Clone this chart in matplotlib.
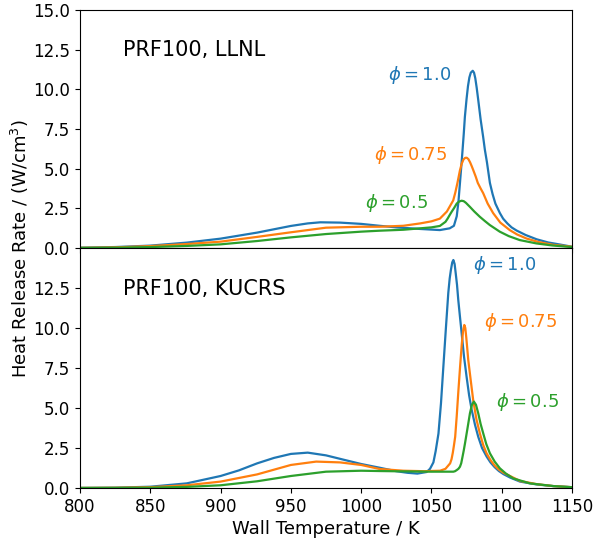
import matplotlib
matplotlib.use("Agg")
import matplotlib.pyplot as plt
import matplotlib.ticker as mticker

# ---- data ----
# Top panel (LLNL)
llnl_T_phi10 = [800, 825, 850, 876, 900, 926, 950, 962, 971, 985, 1000, 1013, 1025, 1042, 1056, 1063,
                1066, 1068, 1069.2, 1070.3, 1071.2, 1072, 1073, 1073.8, 1075, 1076, 1077, 1078, 1079.4,
                1080.3, 1081.2, 1082.2, 1083.3, 1085, 1086.8, 1088, 1089.5, 1091.6, 1093.5, 1095.5,
                1098.7, 1101, 1104, 1107, 1110.6, 1117, 1124.8, 1133, 1141.4, 1150]
llnl_q_phi10 = [0.02, 0.06, 0.15, 0.34, 0.59, 0.97, 1.39, 1.55, 1.62, 1.60, 1.52, 1.40, 1.30, 1.20, 1.13, 1.24,
                1.4, 2.0, 2.9, 4.1, 5.1, 6.0, 7.2, 8.27, 9.4, 10.2, 10.75, 11.05, 11.17,
                11.05, 10.7, 10.1, 9.33, 8.1, 7.0, 6.2, 5.4, 4.1, 3.4, 2.8,
                2.2, 1.85, 1.55, 1.3, 1.1, 0.82, 0.55, 0.35, 0.22, 0.08]

llnl_T_phi075 = [800, 825, 850, 876, 900, 926, 950, 975, 1000, 1013, 1030, 1042, 1050, 1056, 1061, 1065.5,
                 1067, 1068.5, 1070.3, 1071.5, 1072.8, 1074, 1075.1, 1076.3, 1077.5, 1078.7, 1079.8,
                 1081.5, 1083, 1085, 1086.8, 1090, 1093.9, 1099, 1105.7, 1111, 1117.6, 1126, 1136.6, 1150]
llnl_q_phi075 = [0.01, 0.04, 0.12, 0.25, 0.40, 0.70, 0.99, 1.28, 1.34, 1.34, 1.40, 1.55, 1.68, 1.85, 2.3, 3.0,
                 3.5, 4.1, 4.9, 5.3, 5.58, 5.68, 5.69, 5.6, 5.4, 5.15, 4.9,
                 4.5, 4.1, 3.75, 3.46, 2.8, 2.2, 1.6, 1.13, 0.85, 0.6, 0.38, 0.2, 0.08]

llnl_T_phi05 = [800, 825, 850, 876, 900, 926, 950, 975, 1000, 1013, 1030, 1042, 1050, 1056, 1060, 1061.5,
                1063, 1064.5, 1066, 1068, 1069.7, 1071.5, 1073, 1074.5, 1077.3, 1080.5, 1084.4, 1088,
                1091.5, 1098.6, 1105, 1112.8, 1124.6, 1136, 1150]
llnl_q_phi05 = [0.005, 0.02, 0.06, 0.13, 0.23, 0.44, 0.67, 0.88, 1.03, 1.09, 1.15, 1.24, 1.30, 1.39, 1.65, 1.85,
                2.08, 2.3, 2.5, 2.8, 2.93, 2.98, 2.95, 2.85, 2.6, 2.3, 1.97, 1.7,
                1.45, 1.03, 0.75, 0.5, 0.29, 0.16, 0.06]

# Bottom panel (KUCRS)
kucrs_T_phi10 = [800, 825, 850, 876, 900, 913, 926, 938, 950, 962, 975, 987, 1000, 1013, 1025, 1033, 1040,
                 1046.6, 1049, 1051.4, 1053, 1055, 1056.8, 1058.5, 1060.3, 1062, 1063, 1063.8, 1064.8,
                 1065.6, 1066.5, 1067.3, 1068.2, 1069.1, 1070.3, 1071.5, 1073.2, 1075, 1076.8, 1078.6,
                 1081, 1083.3, 1086, 1089.3, 1092, 1095, 1098, 1101.2, 1106, 1113, 1125, 1136.7, 1150]
kucrs_q_phi10 = [0.005, 0.02, 0.08, 0.29, 0.75, 1.1, 1.54, 1.88, 2.13, 2.21, 2.04, 1.78, 1.5, 1.27, 1.05, 0.95, 0.9,
                 1.0, 1.2, 1.6, 2.3, 3.4, 5.3, 7.6, 10.0, 12.2, 13.1, 13.6, 14.1,
                 14.25, 14.0, 13.4, 12.7, 11.75, 10.7, 9.67, 8.2, 6.96, 5.8, 4.9,
                 3.95, 3.2, 2.5, 1.96, 1.6, 1.3, 1.06, 0.87, 0.65, 0.4, 0.22, 0.12, 0.05]

kucrs_T_phi075 = [800, 825, 850, 876, 900, 926, 950, 968, 985, 1000, 1013, 1030, 1045, 1056.2, 1060, 1063.3,
                  1064.3, 1065.2, 1066, 1066.9, 1068, 1069.2, 1070.4, 1071.6, 1072.5, 1073.4, 1074.1, 1074.8,
                  1075.5, 1076.2, 1078, 1079.7, 1082, 1084.5, 1086.8, 1089.2, 1092, 1095, 1098, 1101.1,
                  1113, 1125, 1136.7, 1150]
kucrs_q_phi075 = [0.004, 0.015, 0.05, 0.17, 0.40, 0.85, 1.44, 1.65, 1.6, 1.44, 1.19, 1.08, 1.05, 1.08, 1.2, 1.54,
                  1.8, 2.2, 2.65, 3.2, 4.5, 6.1, 7.6, 9.0, 9.8, 10.19, 10.0, 9.4,
                  8.7, 8.0, 6.7, 5.5, 4.3, 3.4, 2.7, 2.17, 1.75, 1.4, 1.15, 0.96,
                  0.44, 0.24, 0.12, 0.05]

kucrs_T_phi05 = [800, 825, 850, 876, 900, 926, 950, 975, 1000, 1013, 1030, 1050, 1065.6, 1066.8, 1068, 1069.2,
                 1070.3, 1071.2, 1072, 1073, 1073.9, 1075.6, 1077.4, 1078.8, 1080.2, 1081.7, 1083.3, 1085,
                 1086.9, 1089, 1091.6, 1095, 1098.7, 1103, 1108.2, 1120, 1136.7, 1150]
kucrs_q_phi05 = [0.002, 0.008, 0.02, 0.07, 0.17, 0.42, 0.75, 1.02, 1.08, 1.06, 1.04, 1.02, 1.02, 1.05, 1.12, 1.2,
                 1.33, 1.55, 1.9, 2.35, 2.8, 3.7, 4.67, 5.2, 5.4, 5.2, 4.67, 4.0,
                 3.4, 2.75, 2.17, 1.65, 1.23, 0.9, 0.6, 0.29, 0.12, 0.05]

phi_labels = [r"$\phi = 1.0$", r"$\phi = 0.75$", r"$\phi = 0.5$"]
panel_titles = ["PRF100, LLNL", "PRF100, KUCRS"]
x_ticks = [800, 850, 900, 950, 1000, 1050, 1100, 1150]
y_ticks_top = [0.0, 2.5, 5.0, 7.5, 10.0, 12.5, 15.0]
y_ticks_bot = [0.0, 2.5, 5.0, 7.5, 10.0, 12.5]

colors = ["#1f77b4", "#ff7f0e", "#2ca02c"]

fig = plt.figure(figsize=(5.94, 5.45), dpi=100)

left, right = 80 / 594, 572 / 594
ax_top = fig.add_axes([left, 1 - 248 / 545, right - left, 238 / 545])
ax_bot = fig.add_axes([left, 1 - 488 / 545, right - left, 240 / 545], sharex=ax_top)

top_series = [(llnl_T_phi10, llnl_q_phi10), (llnl_T_phi075, llnl_q_phi075), (llnl_T_phi05, llnl_q_phi05)]
bot_series = [(kucrs_T_phi10, kucrs_q_phi10), (kucrs_T_phi075, kucrs_q_phi075), (kucrs_T_phi05, kucrs_q_phi05)]

for (T, q), c in zip(top_series, colors):
    ax_top.plot(T, q, color=c, lw=1.6)
for (T, q), c in zip(bot_series, colors):
    ax_bot.plot(T, q, color=c, lw=1.6)

# phi labels
top_label_pos = [(1041.9, 10.9), (1035.5, 5.86), (1025.5, 2.84)]
bot_label_pos = [(1102.3, 13.94), (1113.7, 10.4), (1118.0, 5.4)]
for (x, y), lab, c in zip(top_label_pos, phi_labels, colors):
    ax_top.text(x, y, lab, color=c, fontsize=13, ha="center", va="center")
for (x, y), lab, c in zip(bot_label_pos, phi_labels, colors):
    ax_bot.text(x, y, lab, color=c, fontsize=13, ha="center", va="center")

ax_top.text(0.087, 0.83, panel_titles[0], transform=ax_top.transAxes, fontsize=15, va="center")
ax_bot.text(0.087, 0.83, panel_titles[1], transform=ax_bot.transAxes, fontsize=15, va="center")

ax_top.set_xlim(800, 1150)
ax_top.set_ylim(0, 15)
ax_bot.set_ylim(0, 15)
ax_top.set_yticks(y_ticks_top)
ax_bot.set_yticks(y_ticks_bot)
ax_bot.set_xticks(x_ticks)
ax_top.tick_params(labelbottom=False, labelsize=12)
ax_bot.tick_params(labelsize=12)
ax_top.yaxis.set_major_formatter(mticker.FormatStrFormatter("%.1f"))
ax_bot.yaxis.set_major_formatter(mticker.FormatStrFormatter("%.1f"))

ax_bot.set_xlabel("Wall Temperature / K", fontsize=13, labelpad=3)
fig.text(20 / 594, 1 - 249 / 545, r"Heat Release Rate / (W/cm$^3$)", rotation=90,
         ha="center", va="center", fontsize=13)

fig.savefig("out.png", dpi=100)
